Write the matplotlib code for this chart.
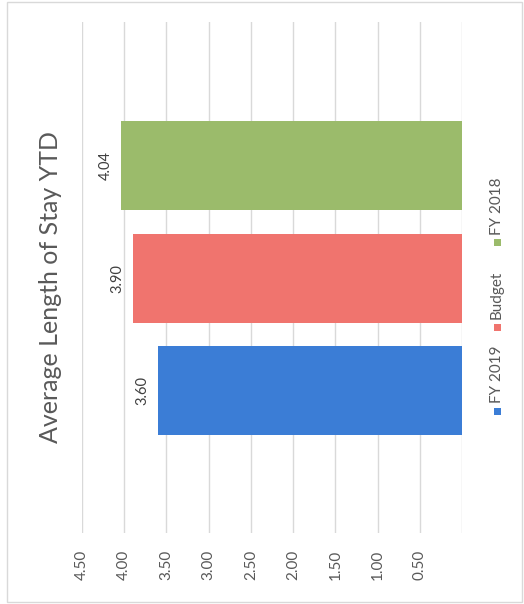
import numpy as np
import matplotlib
matplotlib.use("Agg")
import matplotlib.pyplot as plt
from matplotlib.patches import Rectangle

# Average length of stay, year to date
series = ["FY 2019", "Budget", "FY 2018"]
valores = [3.60, 3.90, 4.04]
cores = ["#3B7DD6", "#F0746E", "#9BBB6B"]
ticks = [0.0, 0.5, 1.0, 1.5, 2.0, 2.5, 3.0, 3.5, 4.0, 4.5]
tick_labels = ["", "0.50", "1.00", "1.50", "2.00", "2.50", "3.00", "3.50", "4.00", "4.50"]
titulo = "Average Length of Stay YTD"

plt.rcParams["font.family"] = ["Lato", "DejaVu Sans"]
cinza = "#595959"

W, H = 524, 604
fig = plt.figure(figsize=(W / 100, H / 100), dpi=100)

def fx(px):
    return px / W

def fy(py):
    return 1 - py / H

# moldura do grafico
fig.patches.append(Rectangle((fx(7), fy(602)), fx(515), 600 / H, transform=fig.transFigure,
                             fill=False, edgecolor="#d9d9d9", lw=1))

ax = fig.add_axes([fx(82), fy(533), fx(380), 511 / H])
pos = np.arange(len(series))
ax.barh(pos, valores, height=0.79, color=cores, zorder=2)
ax.set_xlim(4.5, 0)
ax.set_ylim(-1.26, 3.27)

ax.set_xticks(ticks)
ax.set_xticklabels(tick_labels)
ax.grid(axis="x", color="#d9d9d9", lw=1, zorder=0)
ax.set_yticks([])
ax.tick_params(axis="x", length=0, pad=12, labelrotation=90, labelsize=11, labelcolor=cinza)
for s in ax.spines.values():
    s.set_visible(False)

for p, v in zip(pos, valores):
    ax.annotate(f"{v:.2f}", (v, p), xytext=(-6, 0), textcoords="offset points",
                rotation=90, ha="right", va="center", fontsize=10.5, color="#404040")

fig.text(fx(51), fy(287), titulo, rotation=90, ha="center", va="center",
         fontsize=18, color=cinza)

# legenda desenhada a mao, rodada como o resto
leg_y = [411, 327, 243]
for nome, cor, y in zip(series, cores, leg_y):
    fig.patches.append(Rectangle((fx(493.5), fy(y + 3.5)), fx(7), 7 / H, transform=fig.transFigure,
                                 facecolor=cor, edgecolor="none"))
    fig.text(fx(497), fy(y - 8), nome, rotation=90, ha="center", va="bottom",
             fontsize=11, color=cinza)

fig.savefig("out.png", dpi=100, facecolor="white")
